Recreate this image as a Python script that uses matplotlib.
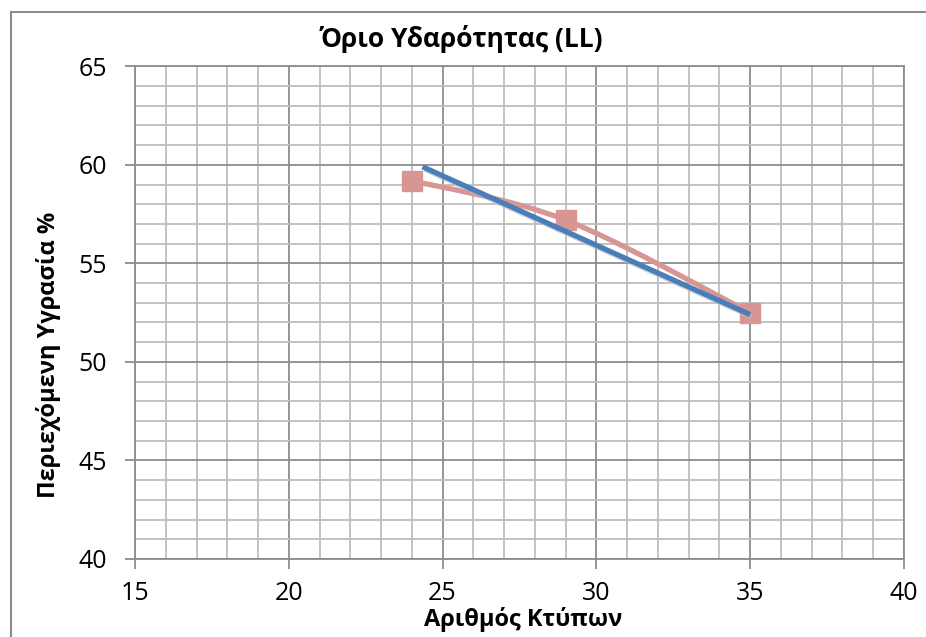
import numpy as np
import matplotlib.pyplot as plt
from matplotlib.path import Path
from matplotlib.patches import PathPatch, Rectangle
from matplotlib.ticker import MultipleLocator

# Liquid limit test: blow count vs moisture content
blows = [24, 29, 35]
moisture = [59.2, 57.2, 52.5]

# fitted line drawn as its own series
fit_x = [24.35, 35]
fit_y = [59.9, 52.4]

title = 'Όριο Υδαρότητας (LL)'
xlabel = 'Αριθμός Κτύπων'
ylabel = 'Περιεχόμενη Υγρασία %'

pink = '#D79694'
blue = '#4A7EBB'
grid_major = '#8C8C8C'
grid_minor = '#BEBEBE'

plt.rcParams['font.family'] = ['Open Sans', 'DejaVu Sans']


def smooth_path(xs, ys, k=1/6):
    # cubic bezier through the points, excel-style smoothing
    pts = np.column_stack([xs, ys]).astype(float)
    n = len(pts)
    verts = [pts[0]]
    codes = [Path.MOVETO]
    for i in range(n - 1):
        p0 = pts[i - 1] if i > 0 else pts[i]
        p1 = pts[i]
        p2 = pts[i + 1]
        p3 = pts[i + 2] if i + 2 < n else pts[i + 1]
        c1 = p1 + (p2 - p0) * k
        c2 = p2 - (p3 - p1) * k
        verts += [c1, c2, p2]
        codes += [Path.CURVE4] * 3
    return Path(verts, codes)


fig = plt.figure(figsize=(9.26, 6.37), dpi=100)
ax = fig.add_axes([0.1458, 0.1225, 0.8302, 0.7735])

ax.set_xlim(15, 40)
ax.set_ylim(40, 65)
ax.xaxis.set_major_locator(MultipleLocator(5))
ax.xaxis.set_minor_locator(MultipleLocator(1))
ax.yaxis.set_major_locator(MultipleLocator(5))
ax.yaxis.set_minor_locator(MultipleLocator(1))
ax.grid(which='minor', color=grid_minor, linewidth=1.3)
ax.grid(which='major', color=grid_major, linewidth=1.3)
ax.set_axisbelow(True)
ax.tick_params(which='minor', length=0)
ax.tick_params(which='major', direction='out', length=7, width=1.3,
               color=grid_major, labelsize=18)
ax.tick_params(axis='x', pad=9)
ax.tick_params(axis='y', pad=13)
for s in ax.spines.values():
    s.set_color(grid_major)
    s.set_linewidth(1.3)

# pink series: smoothed line with square markers
ax.add_patch(PathPatch(smooth_path(blows, moisture), facecolor='none',
                       edgecolor=pink, linewidth=3.8, zorder=3))
ax.plot(blows, moisture, linestyle='none', marker='s', markersize=14.5,
        color=pink, zorder=4)

# blue line with a faint shadow
ax.plot(np.array(fit_x) + 0.06, np.array(fit_y) - 0.12, color='#BBBBBB',
        linewidth=3.8, alpha=0.6, zorder=4, solid_capstyle='butt')
ax.plot(fit_x, fit_y, color=blue, linewidth=3.8, zorder=5,
        solid_capstyle='butt')

fig.text(0.498, 0.926, title, ha='center', va='baseline', fontsize=19,
         fontweight='bold')
fig.text(0.565, 0.017, xlabel, ha='center', va='baseline', fontsize=17,
         fontweight='bold')
fig.text(0.052, 0.443, ylabel, ha='center', va='center', rotation=90,
         fontsize=17, fontweight='bold')

# chart frame
fig.patches.append(Rectangle((0.012, -0.01), 1.0, 0.991,
                             transform=fig.transFigure, fill=False,
                             edgecolor='#8C8C8C', linewidth=1.5))

fig.savefig('out.png', dpi=100)
